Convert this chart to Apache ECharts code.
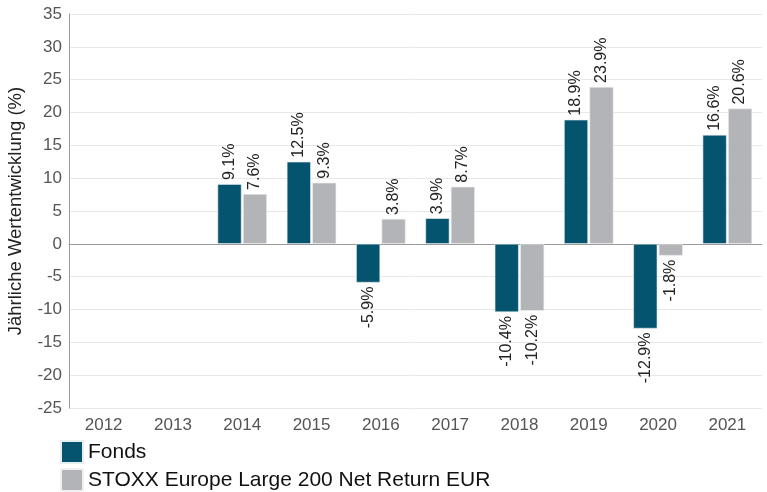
<!DOCTYPE html>
<html>
<head>
<meta charset="utf-8">
<script src="https://cdn.jsdelivr.net/npm/echarts@6/dist/echarts.min.js"></script>
<style>
  html, body { margin: 0; padding: 0; background: #fff; }
</style>
</head>
<body>
<!-- Diagramm-Container -->
<div id="chart" style="width: 767px;height:492px;"></div>
<script>
// Kategorien und Werte
const years = ['2012', '2013', '2014', '2015', '2016', '2017', '2018', '2019', '2020', '2021']
const fonds = [null, null, 9.1, 12.5, -5.9, 3.9, -10.4, 18.9, -12.9, 16.6]
const stoxx = [null, null, 7.6, 9.3, 3.8, 8.7, -10.2, 23.9, -1.8, 20.6]
const seriesNames = ['Fonds', 'STOXX Europe Large 200 Net Return EUR']

const font = 'Liberation Sans, Arial, sans-serif'

// Beschriftung: positive Werte oben, negative unten
function withLabels (values) {
  return values.map(v => {
    if (v === null) return null
    const neg = v < 0
    return {
      value: v,
      label: {
        show: true,
        position: neg ? 'bottom' : 'top',
        rotate: 90,
        align: neg ? 'right' : 'left',
        verticalAlign: 'middle',
        distance: 4,
        formatter: p => p.value.toFixed(1) + '%',
        fontFamily: font,
        fontSize: 16,
        color: '#222'
      }
    }
  })
}

const myChart = echarts.init(document.getElementById('chart'))

const option = {
  animation: false,
  textStyle: { fontFamily: font },
  grid: {
    top: 14,
    left: 69,
    right: 5,
    bottom: 84,
    outerBoundsMode: 'none',
    containLabel: false
  },
  legend: {
    orient: 'vertical',
    left: 60,
    top: 440,
    padding: 0,
    icon: 'rect',
    itemWidth: 22,
    itemHeight: 22,
    itemGap: 4,
    data: seriesNames,
    textStyle: { fontFamily: font, fontSize: 21, color: '#111', padding: [0, 0, 0, 0] }
  },
  xAxis: {
    type: 'category',
    data: years,
    axisLine: { lineStyle: { color: '#9a9a9a' } },
    axisTick: { show: false },
    axisLabel: { fontFamily: font, fontSize: 17, color: '#555', margin: 9 }
  },
  yAxis: {
    type: 'value',
    min: -25,
    max: 35,
    interval: 5,
    name: 'Jährliche Wertentwicklung (%)',
    nameLocation: 'middle',
    nameGap: 44,
    nameTextStyle: { fontFamily: font, fontSize: 18.5, color: '#222' },
    axisLine: { show: true, lineStyle: { color: '#9a9a9a' } },
    axisTick: { show: false },
    axisLabel: { fontFamily: font, fontSize: 17, color: '#555', margin: 7 },
    splitLine: { lineStyle: { color: '#e8e8e8' } }
  },
  series: [
    {
      name: seriesNames[0],
      type: 'bar',
      barWidth: 24,
      barGap: '6%',
      itemStyle: { color: '#04536f', borderColor: '#e8eef0', borderWidth: 0.6 },
      data: withLabels(fonds)
    },
    {
      name: seriesNames[1],
      type: 'bar',
      barWidth: 24,
      itemStyle: { color: '#b3b4b7', borderColor: '#f0f0f0', borderWidth: 0.6 },
      data: withLabels(stoxx)
    }
  ]
}

myChart.setOption(option)
</script>
</body>
</html>
